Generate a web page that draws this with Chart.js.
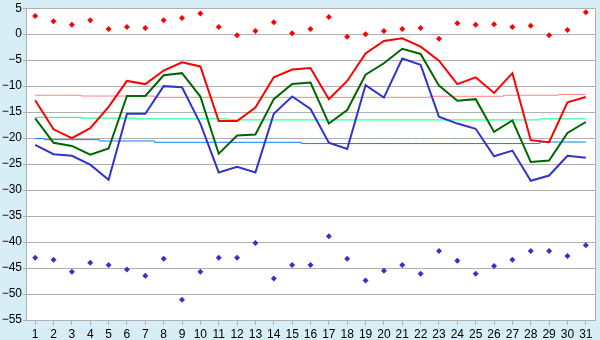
<!DOCTYPE html>
<html>
<head>
<meta charset="utf-8">
<script src="https://cdn.jsdelivr.net/npm/chart.js@4"></script>
<style>
  html, body { margin: 0; padding: 0; background: #d8eef6; }
  canvas { display: block; }
</style>
</head>
<body>
<canvas id="tempChart" width="600" height="340"></canvas>
<script>
const days = ['1','2','3','4','5','6','7','8','9','10','11','12','13','14','15','16',
    '17','18','19','20','21','22','23','24','25','26','27','28','29','30','31'];

// record extremes (points)
const recordHigh = [3.5, 2.5, 1.8, 2.7, 1.0, 1.4, 1.2, 2.7, 3.1, 4.0, 1.4, -0.2, 0.6, 2.3, 0.2, 1.0,
    3.3, -0.5, 0.0, 0.6, 1.0, 1.2, -0.9, 2.1, 1.8, 1.9, 1.4, 1.6, -0.2, 0.8, 4.2];
const recordLow = [-43.0, -43.4, -45.7, -44.0, -44.4, -45.3, -46.5, -43.2, -51.1, -45.7, -43.0, -43.0,
    -40.2, -47.0, -44.4, -44.4, -38.9, -43.2, -47.4, -45.5, -44.4, -46.1, -41.7, -43.6, -46.1, -44.6,
    -43.4, -41.7, -41.7, -42.7, -40.6];

// daily values
const maxTemp = [-12.7, -18.3, -20.0, -18.1, -14.0, -9.0, -9.6, -7.0, -5.4, -6.2, -16.7, -16.7, -14.1,
    -8.3, -6.8, -6.5, -12.5, -9.0, -3.7, -1.3, -0.8, -2.4, -5.1, -9.6, -8.3, -11.3, -7.5, -20.4, -20.8,
    -13.1, -12.1];
const meanTemp = [-16.2, -20.9, -21.5, -23.2, -22.0, -11.9, -11.9, -7.9, -7.5, -12.0, -23.0, -19.5, -19.3,
    -12.5, -9.6, -9.3, -17.2, -14.6, -7.8, -5.6, -2.8, -3.8, -9.9, -12.8, -12.5, -18.8, -16.6, -24.6, -24.3,
    -19.0, -16.9];
const minTemp = [-21.3, -23.1, -23.4, -25.1, -28.0, -15.3, -15.3, -10.0, -10.2, -17.2, -26.6, -25.5, -26.6,
    -15.3, -12.0, -14.4, -20.9, -22.1, -9.8, -12.2, -4.7, -5.9, -15.9, -17.2, -18.2, -23.5, -22.4, -28.2,
    -27.2, -23.4, -23.8];

// normals
const normMax = [-11.75, -11.75, -11.75, -11.9, -11.9, -11.9, -11.9, -12.15, -12.15, -12.15, -12.15,
    -12.15, -12.15, -12.15, -12.15, -12.15, -12.15, -12.15, -12.15, -12.15, -12.15, -12.15, -11.95, -11.95,
    -11.95, -11.95, -11.75, -11.75, -11.75, -11.6, -11.6];
const normMean = [-16.0, -16.0, -16.0, -16.15, -16.15, -16.15, -16.3, -16.3, -16.3, -16.3, -16.3, -16.5,
    -16.5, -16.5, -16.5, -16.5, -16.5, -16.5, -16.5, -16.5, -16.5, -16.5, -16.5, -16.5, -16.5, -16.5, -16.5,
    -16.5, -16.3, -16.3, -16.3];
const normMin = [-20.1, -20.3, -20.3, -20.3, -20.55, -20.55, -20.55, -20.8, -20.8, -20.8, -20.8, -20.8,
    -20.8, -20.8, -20.8, -21.05, -21.05, -21.05, -21.05, -21.05, -21.05, -21.05, -21.05, -21.05, -21.05,
    -21.05, -21.05, -21.05, -20.75, -20.75, -20.75];

const gridColor = '#b0b0b0';

const framePlugin = {
    id: 'frame',
    beforeDraw(chart) {
        const { ctx, chartArea: a } = chart;
        ctx.save();
        ctx.fillStyle = '#ffffff';
        ctx.fillRect(a.left, a.top, a.right - a.left, a.bottom - a.top);
        ctx.restore();
    },
    afterDraw(chart) {
        const { ctx, chartArea: a } = chart;
        ctx.save();
        ctx.strokeStyle = gridColor;
        ctx.lineWidth = 1;
        ctx.beginPath();
        ctx.moveTo(Math.round(a.right) + 0.5, a.top);
        ctx.lineTo(Math.round(a.right) + 0.5, a.bottom);
        ctx.stroke();
        ctx.restore();
    }
};

function lineSet(data, color, width) {
    return { data: data, borderColor: color, backgroundColor: color, borderWidth: width,
        pointRadius: 0, tension: 0, fill: false };
}
function normSet(data, color) {
    const s = lineSet(data, color, 1);
    s.stepped = 'middle';
    return s;
}
function pointSet(data, color) {
    return { data: data, showLine: false, pointStyle: 'rectRot', pointRadius: 3,
        pointBackgroundColor: color, pointBorderWidth: 0, borderColor: color };
}

const ctx = document.getElementById('tempChart').getContext('2d');
new Chart(ctx, {
    type: 'line',
    data: {
        labels: days,
        datasets: [
            lineSet(maxTemp, '#ff0000', 2),
            lineSet(meanTemp, '#006600', 2),
            lineSet(minTemp, '#3333cc', 2),
            pointSet(recordHigh, '#ff0000'),
            pointSet(recordLow, '#3333cc'),
            normSet(normMax, '#ff8080'),
            normSet(normMean, '#00ff80'),
            normSet(normMin, '#0080ff')
        ]
    },
    options: {
        responsive: false,
        animation: false,
        layout: { padding: { top: 5, right: 5 } },
        plugins: { legend: { display: false }, tooltip: { enabled: false } },
        scales: {
            x: {
                offset: true,
                grid: { offset: false, drawOnChartArea: false, drawTicks: true, tickLength: 5, color: gridColor },
                border: { color: gridColor },
                ticks: { color: '#000', padding: 2, maxRotation: 0, autoSkip: false,
                    font: { family: 'Liberation Sans', size: 12 } },
                afterFit(scale) { scale.height = 20; }
            },
            y: {
                min: -55,
                max: 5,
                grid: { color: gridColor, tickLength: 3 },
                border: { color: gridColor },
                ticks: { stepSize: 5, color: '#000', padding: 1,
                    font: { family: 'Liberation Sans', size: 12 },
                    callback: v => String(v).replace('-', '\u2212') },
                afterFit(scale) { scale.width = 26; }
            }
        }
    },
    plugins: [framePlugin]
});
</script>
</body>
</html>
